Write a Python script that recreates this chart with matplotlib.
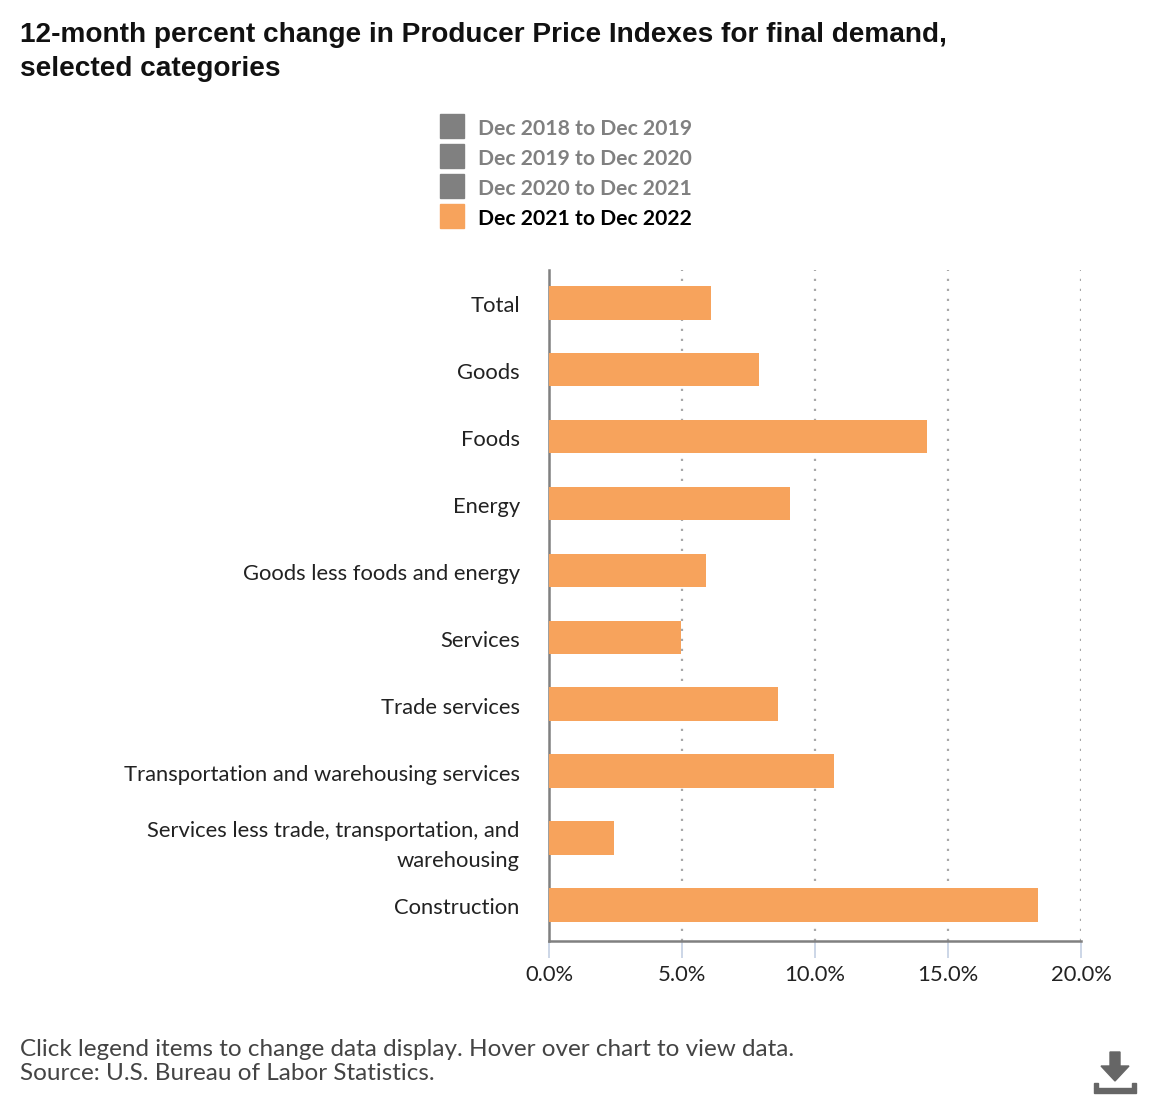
import matplotlib
matplotlib.use('Agg')
import matplotlib.pyplot as plt
from matplotlib.patches import Patch, Polygon, Rectangle
from matplotlib.transforms import ScaledTranslation

categories = ['Total', 'Goods', 'Foods', 'Energy', 'Goods less foods and energy', 'Services',
              'Trade services', 'Transportation and warehousing services',
              'Services less trade, transportation, and\nwarehousing', 'Construction']
values = [6.1, 7.9, 14.2, 9.05, 5.9, 4.95, 8.6, 10.7, 2.45, 18.4]
periods = ['Dec 2018 to Dec 2019', 'Dec 2019 to Dec 2020', 'Dec 2020 to Dec 2021', 'Dec 2021 to Dec 2022']
xticks = [0, 5, 10, 15, 20]
xtick_labels = ['0.0%', '5.0%', '10.0%', '15.0%', '20.0%']

W, H = 1160, 1100
ORANGE = '#f7a35c'
GRAY = '#808080'


def fx(px):
    return px / W


def fy(py):
    return 1 - py / H


def main():
    plt.rcParams['font.family'] = ['Lato', 'DejaVu Sans']

    fig = plt.figure(figsize=(W / 100, H / 100), dpi=100)
    ax = fig.add_axes([fx(549), fy(941), fx(1081 - 549), (941 - 270) / H])

    # Bars, first category at the top.
    pos = list(range(len(categories)))
    ax.barh(pos, values, height=0.5, color=ORANGE, zorder=3)
    ax.set_ylim(9.54, -0.49)
    ax.set_xlim(0, 20)

    ax.set_yticks(pos)
    ax.set_yticklabels(categories, fontsize=15.8, color='#222222', linespacing=1.58)
    ax.tick_params(axis='y', length=0, pad=21)
    # Labels sit a little below the bar centres.
    shift = ScaledTranslation(0, -1.5 / 100, fig.dpi_scale_trans)
    for label in ax.get_yticklabels():
        label.set_transform(label.get_transform() + shift)
    ax.set_xticks(xticks)
    ax.set_xticklabels(xtick_labels, fontsize=15.8, color='#222222')
    ax.tick_params(axis='x', length=12, width=1.2, color='#c3d0e3', pad=5)

    ax.grid(axis='x', color='#a8a8a8', linestyle=(0, (1, 3.5)), linewidth=1.6, zorder=1)
    ax.set_axisbelow(True)
    for side in ['top', 'right']:
        ax.spines[side].set_visible(False)
    for side in ['left', 'bottom']:
        ax.spines[side].set_color(GRAY)
        ax.spines[side].set_linewidth(1.8)

    # Title
    fig.text(fx(20), fy(35), '12-month percent change in Producer Price Indexes for final demand,',
             family='Liberation Sans', weight='bold', fontsize=20.15, color='#111111', va='center')
    fig.text(fx(20), fy(69), 'selected categories',
             family='Liberation Sans', weight='bold', fontsize=20.15, color='#111111', va='center')

    # Legend, only the last period is switched on.
    handles = [Patch(color=GRAY), Patch(color=GRAY), Patch(color=GRAY), Patch(color=ORANGE)]
    leg = fig.legend(handles, periods, loc='upper left', bbox_to_anchor=(fx(421), fy(95)), frameon=False,
                     prop={'family': 'Lato', 'weight': 'bold', 'size': 15.2}, labelcolor=[GRAY, GRAY, GRAY, 'black'],
                     handlelength=1.13, handleheight=1.37, handletextpad=0.66, labelspacing=0.29)
    for text in leg.get_texts():
        text.set_y(-2)

    # Notes
    fig.text(fx(20), fy(1049), 'Click legend items to change data display. Hover over chart to view data.',
             fontsize=17.5, color='#444444', va='center')
    fig.text(fx(20), fy(1073), 'Source: U.S. Bureau of Labor Statistics.',
             fontsize=17.5, color='#444444', va='center')

    # Download icon
    icon = '#666666'
    fig.add_artist(Polygon([(fx(1110), fy(1052)), (fx(1120), fy(1052)), (fx(1120), fy(1066)), (fx(1129), fy(1066)),
                            (fx(1115), fy(1081)), (fx(1101), fy(1066)), (fx(1110), fy(1066))],
                           closed=True, color=icon, transform=fig.transFigure))
    for x, y, w, h in [(1094, 1088, 42, 5), (1094, 1083, 4, 5), (1132, 1083, 4, 5)]:
        fig.add_artist(Rectangle((fx(x), fy(y + h)), w / W, h / H, color=icon, transform=fig.transFigure))

    fig.savefig('out.png', dpi=100)


if __name__ == '__main__':
    main()
